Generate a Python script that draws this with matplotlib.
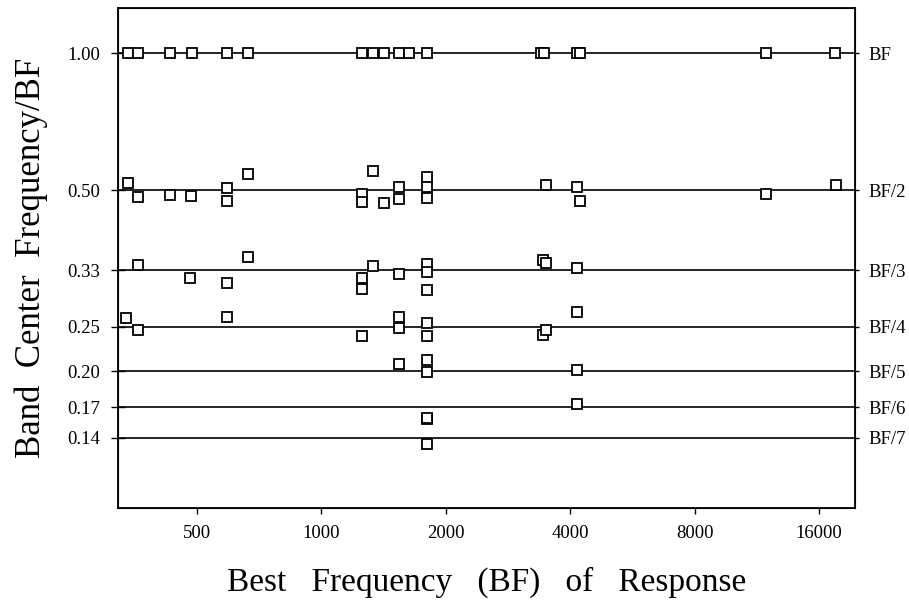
import matplotlib
matplotlib.use("Agg")
import matplotlib.pyplot as plt
from matplotlib.ticker import FixedLocator, NullLocator

plt.rcParams['font.family'] = ['Liberation Serif', 'DejaVu Serif']

# harmonic bands (ratio of band center to BF)
band_ratios = [1.0, 1 / 2, 1 / 3, 1 / 4, 1 / 5, 1 / 6, 1 / 7]
band_names = ["BF", "BF/2", "BF/3", "BF/4", "BF/5", "BF/6", "BF/7"]
ytick_labels = ["1.00", "0.50", "0.33", "0.25", "0.20", "0.17", "0.14"]
xtick_vals = [500, 1000, 2000, 4000, 8000, 16000]

# responses at the BF itself
bf_freq = [340, 360, 430, 486, 591, 664, 1254, 1333, 1417, 1541, 1629, 1801,
           3400, 3456, 4155, 4225, 11910, 17500]
bf_ratio = [1.0] * len(bf_freq)

# responses near BF/2
h2_freq = [340, 360, 430, 484, 590, 590, 663, 1255, 1255, 1333, 1417, 1540,
           1540, 1800, 1800, 1800, 3490, 4160, 4220, 11900, 17600]
h2_ratio = [0.517, 0.483, 0.488, 0.485, 0.506, 0.473, 0.541, 0.490, 0.470,
            0.551, 0.469, 0.508, 0.477, 0.533, 0.508, 0.481, 0.513, 0.508,
            0.473, 0.489, 0.513]

# responses near BF/3 .. BF/7
lo_freq = [359, 481, 590, 663, 1255, 1255, 1333, 1540, 1800, 1800, 1800,
           3430, 3490, 4160,
           337, 359, 590, 1255, 1540, 1540, 1800, 1800, 3430, 3490, 4150,
           1540, 1800, 1800, 4160,
           1800, 1800, 4160,
           1800]
lo_ratio = [0.342, 0.321, 0.313, 0.356, 0.320, 0.303, 0.341, 0.327, 0.344,
            0.330, 0.302, 0.350, 0.345, 0.337,
            0.261, 0.246, 0.263, 0.239, 0.263, 0.249, 0.255, 0.239, 0.240,
            0.246, 0.270,
            0.207, 0.212, 0.199, 0.201,
            0.157, 0.158, 0.169,
            0.138]

fig = plt.figure(figsize=(9.09, 6.07), dpi=100)
ax = fig.add_axes([0.1298, 0.1631, 0.8108, 0.8237])

for r in band_ratios:
    ax.axhline(r, color='black', lw=1.2, zorder=1)

freqs = bf_freq + h2_freq + lo_freq
ratios = bf_ratio + h2_ratio + lo_ratio
ax.plot(freqs, ratios, ls='none', marker='s', ms=7.5, mfc='white',
        mec='black', mew=1.3, zorder=3)

ax.set_xscale('log', base=2)
ax.set_yscale('log', base=2)
ax.set_xlim(322, 19550)
ax.set_ylim(0.1, 1.256)

ax.xaxis.set_major_locator(FixedLocator(xtick_vals))
ax.xaxis.set_minor_locator(NullLocator())
ax.set_xticklabels([str(v) for v in xtick_vals], fontsize=13.5)
ax.yaxis.set_major_locator(FixedLocator(band_ratios))
ax.yaxis.set_minor_locator(NullLocator())
ax.set_yticklabels(ytick_labels, fontsize=13.5)
ax.tick_params(axis='x', direction='out', length=4, width=1, pad=8)
ax.tick_params(axis='y', direction='inout', length=10, width=1, pad=8)

for s in ax.spines.values():
    s.set_linewidth(1.3)

ax2 = ax.twinx()
ax2.set_yscale('log', base=2)
ax2.set_ylim(ax.get_ylim())
ax2.yaxis.set_major_locator(FixedLocator(band_ratios))
ax2.yaxis.set_minor_locator(NullLocator())
ax2.set_yticklabels(band_names, fontsize=13.5)
ax2.tick_params(axis='y', direction='out', length=3, width=1, pad=7)

ax.set_xlabel("Best   Frequency   (BF)   of   Response", fontsize=24,
              labelpad=18)
ax.set_ylabel("Band  Center  Frequency/BF", fontsize=25, labelpad=14)

fig.savefig("out.png", dpi=100)
